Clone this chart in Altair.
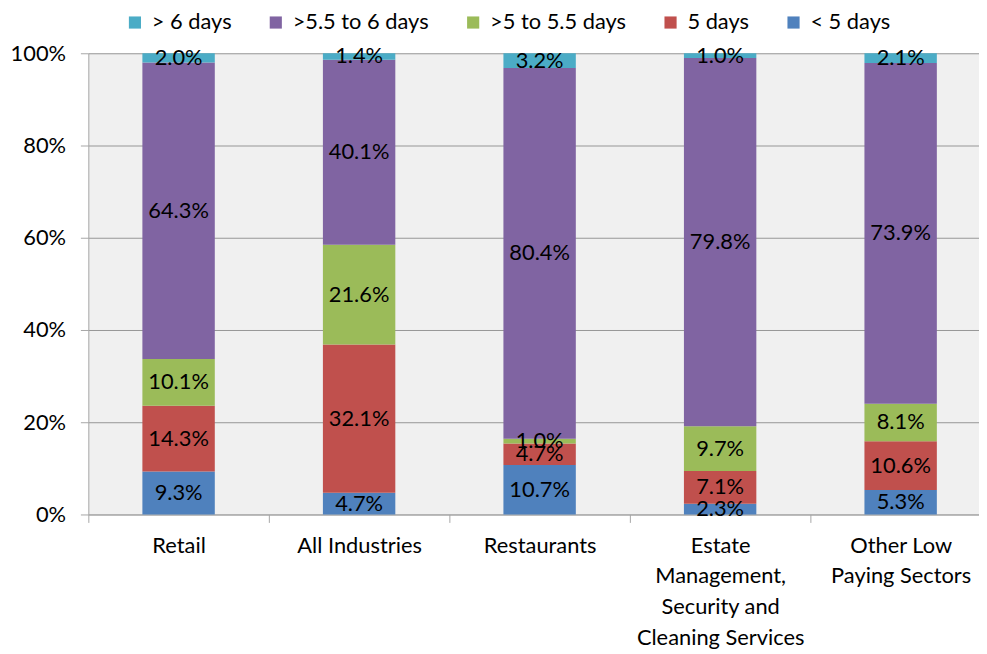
import altair as alt
import pandas as pd

categories = ["Retail", "All Industries", "Restaurants",
              "Estate Management, Security and Cleaning Services",
              "Other Low Paying Sectors"]
label_lines = [["Retail"], ["All Industries"], ["Restaurants"],
               ["Estate", "Management,", "Security and", "Cleaning Services"],
               ["Other Low", "Paying Sectors"]]

# series listed bottom -> top of each stack
series = ["< 5 days", "5 days", ">5 to 5.5 days", ">5.5 to 6 days", "> 6 days"]
lt5 = [9.3, 4.7, 10.7, 2.3, 5.3]
d5 = [14.3, 32.1, 4.7, 7.1, 10.6]
d5_55 = [10.1, 21.6, 1.0, 9.7, 8.1]
d55_6 = [64.3, 40.1, 80.4, 79.8, 73.9]
gt6 = [2.0, 1.4, 3.2, 1.0, 2.1]

legend_order = ["> 6 days", ">5.5 to 6 days", ">5 to 5.5 days", "5 days", "< 5 days"]
legend_colors = ["#4BACC6", "#8064A2", "#9BBB59", "#C0504D", "#4F81BD"]

values_by_series = [lt5, d5, d5_55, d55_6, gt6]
rows = []
for si, (s, vals) in enumerate(zip(series, values_by_series)):
    for ci, c in enumerate(categories):
        rows.append({"cat": c, "series": s, "value": vals[ci], "order": si})
df = pd.DataFrame(rows)

FONT = "Lato"
FS = 22

cats_js = "[" + ",".join("'" + c + "'" for c in categories) + "]"
lines_js = "[" + ",".join("[" + ",".join("'" + l + "'" for l in ls) + "]" for ls in label_lines) + "]"
label_expr = f"{lines_js}[indexof({cats_js}, datum.value)]"

base = alt.Chart(df).transform_stack(
    stack="value", groupby=["cat"], as_=["y0", "y1"],
    sort=[alt.SortField("order", order="ascending")], offset="normalize"
).transform_calculate(
    ym="(datum.y0 + datum.y1) / 2",
    lbl="format(datum.value, '.1f') + '%'"
)

xenc = alt.X("cat:N", sort=categories,
             scale=alt.Scale(domain=categories, range=[0, 910], paddingInner=0, paddingOuter=0),
             axis=alt.Axis(title=None, labelExpr=label_expr, labelFontSize=FS, labelFont=FONT,
                           labelColor="#000000", labelAngle=0, labelLineHeight=31,
                           labelBaseline="top", tickBand="extent", tickSize=8, tickColor="#A6A6A6",
                           domainColor="#A6A6A6", labelPadding=13, grid=False))

bars = base.mark_bar(size=73).encode(
    x=xenc,
    y=alt.Y("y0:Q", scale=alt.Scale(domain=[0, 1], nice=False),
            axis=alt.Axis(title=None, values=[0, 0.2, 0.4, 0.6, 0.8, 1.0], format=".0%",
                          labelFontSize=FS, labelFont=FONT, labelColor="#000000",
                          grid=True, gridColor="#969696", tickColor="#A6A6A6", tickSize=8,
                          domainColor="#A6A6A6", labelPadding=15)),
    y2="y1:Q",
    color=alt.Color("series:N", scale=alt.Scale(domain=legend_order, range=legend_colors),
                    legend=alt.Legend(title=None, orient="none", legendX=36, legendY=-42,
                                      direction="horizontal", symbolType="square",
                                      symbolSize=150, symbolStrokeWidth=0, labelFontSize=FS,
                                      labelFont=FONT, labelColor="#000000", columnPadding=33,
                                      labelOffset=6)),
)

texts = base.mark_text(fontSize=FS, font=FONT, color="#000000").encode(
    x=alt.X("cat:N", sort=categories),
    y=alt.Y("ym:Q"),
    text="lbl:N",
)

chart = alt.layer(bars, texts).properties(
    width=898, height=465,
    autosize="none",
    padding={"left": 81, "top": 43, "right": 0, "bottom": 134},
    background="#FFFFFF",
).configure_view(stroke=None, fill="#F0F0F0")

chart.save("out.html", embed_options={"renderer": "svg", "actions": False})
